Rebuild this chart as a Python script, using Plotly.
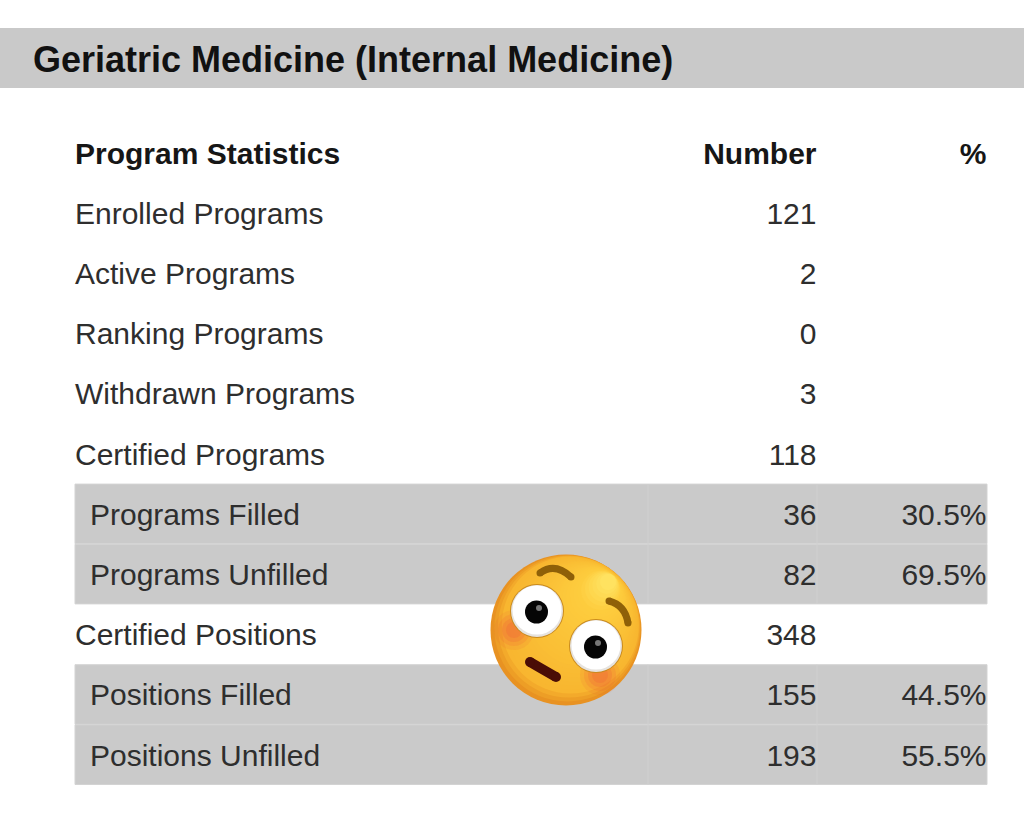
import plotly.graph_objects as go

W, H = 1024, 829

title = 'Geriatric Medicine (Internal Medicine)'
header_labels = ['Program Statistics', 'Number', '%']
row_labels = ['Enrolled Programs', 'Active Programs', 'Ranking Programs', 'Withdrawn Programs',
              'Certified Programs', 'Programs Filled', 'Programs Unfilled', 'Certified Positions',
              'Positions Filled', 'Positions Unfilled']
row_numbers = [121, 2, 0, 3, 118, 36, 82, 348, 155, 193]
row_percents = ['', '', '', '', '', '30.5%', '69.5%', '', '44.5%', '55.5%']

FONT = 'Liberation Sans'
BAND = '#cacaca'
TEXT = '#2e2e2e'
ROW_PX = 60.2
TOP_PX = 156  # pixel position of the header row on the y axis


def px_x(x):
    return x / W


def px_y(y):
    return 1 - y / H


def circle(cx, cy, r, color, opacity=1.0):
    return dict(type='circle', xref='paper', yref='paper', layer='above',
                x0=px_x(cx - r), x1=px_x(cx + r), y0=px_y(cy + r), y1=px_y(cy - r),
                fillcolor=color, opacity=opacity, line=dict(width=0))


def curve(points, color, width):
    (x0, y0), (x1, y1), (x2, y2) = points
    path = f'M {px_x(x0)} {px_y(y0)} Q {px_x(x1)} {px_y(y1)} {px_x(x2)} {px_y(y2)}'
    stroke = dict(type='path', xref='paper', yref='paper', layer='above', path=path,
                  line=dict(color=color, width=width))
    # round ends
    return [stroke, circle(x0, y0, width / 2, color), circle(x2, y2, width / 2, color)]


def mix(a, b, t):
    return 'rgb(%d,%d,%d)' % tuple(a[i] + (b[i] - a[i]) * t for i in range(3))


def emoji_shapes():
    shapes = []
    # face, layered circles drifting towards the upper right to fake the shading
    steps = 30
    for i in range(steps):
        t = i / (steps - 1)
        r = 75.5 * (1 - t) + 8 * t
        cx = 566 + 42 * t
        cy = 630 - 48 * t
        if t < 0.1:
            color = mix((232, 146, 34), (248, 182, 48), t / 0.1)
        elif t < 0.8:
            color = mix((248, 182, 48), (254, 205, 62), (t - 0.1) / 0.7)
        else:
            color = mix((254, 205, 62), (255, 226, 96), (t - 0.8) / 0.2)
        shapes.append(circle(cx, cy, r, color))
    # blush
    for r, op in [(20, 0.10), (16, 0.14), (12, 0.18), (8, 0.20)]:
        shapes.append(circle(514, 630, r, '#f0503c', op))
        shapes.append(circle(600, 675, r, '#f0503c', op))
    # eyes
    for cx, cy in [(537, 611), (596, 646)]:
        shapes.append(circle(cx, cy, 27, '#c98a1e'))
        shapes.append(circle(cx, cy, 26, '#e6e3df'))
        shapes.append(circle(cx, cy - 1, 24.5, '#ffffff'))
        shapes.append(circle(cx - 0.5, cy + 1, 11.5, '#050505'))
        shapes.append(circle(cx + 2, cy - 3, 3, '#777777'))
    # brows and mouth
    shapes += curve([(540, 573), (555, 562), (571, 577)], '#8f6008', 7)
    shapes += curve([(609, 601), (625, 605), (628, 623)], '#8f6008', 7)
    shapes += curve([(530, 662), (542, 669), (556, 677)], '#4a0d06', 10)
    return shapes


rows = list(range(1, len(row_labels) + 1))
is_sub = ['Filled' in s or 'Unfilled' in s for s in row_labels]

fig = go.Figure()

# title and header
fig.add_trace(go.Scatter(x=[33], y=[(60 - TOP_PX + 2.5) / ROW_PX], mode='text', text=[title],
                         textposition='middle right',
                         textfont=dict(family=FONT, size=36, color='#111111', weight='bold')))
fig.add_trace(go.Scatter(x=[75], y=[0], mode='text', text=[header_labels[0]],
                         textposition='middle right',
                         textfont=dict(family=FONT, size=30, color='#161616', weight='bold')))
fig.add_trace(go.Scatter(x=[816.5, 986.5], y=[0, 0], mode='text', text=header_labels[1:],
                         textposition='middle left',
                         textfont=dict(family=FONT, size=30, color='#161616', weight='bold')))

# body columns
fig.add_trace(go.Scatter(x=[90 if s else 75 for s in is_sub], y=rows, mode='text', text=row_labels,
                         textposition='middle right',
                         textfont=dict(family=FONT, size=30, color=TEXT)))
fig.add_trace(go.Scatter(x=[816.5] * len(rows), y=rows, mode='text', text=[str(n) for n in row_numbers],
                         textposition='middle left',
                         textfont=dict(family=FONT, size=30, color=TEXT)))
fig.add_trace(go.Scatter(x=[986.5] * len(rows), y=rows, mode='text', text=row_percents,
                         textposition='middle left',
                         textfont=dict(family=FONT, size=30, color=TEXT)))

shapes = [dict(type='rect', xref='paper', yref='paper', layer='below', x0=0, x1=1,
               y0=px_y(88), y1=px_y(28), fillcolor='#c9c9c9', line=dict(width=0))]
for row, sub in zip(rows, is_sub):
    if sub:
        shapes.append(dict(type='rect', xref='x', yref='y', layer='below', x0=75, x1=987,
                           y0=row - 0.55, y1=row + 0.44, fillcolor=BAND,
                           line=dict(color='#d3d3d3', width=1)))
# faint column seams in the shaded rows
for x in [648, 817]:
    for first, last in [(6, 7), (9, 10)]:
        shapes.append(dict(type='line', xref='x', yref='y', layer='below', x0=x, x1=x,
                           y0=first - 0.55, y1=last + 0.44,
                           line=dict(color='#d0d0d0', width=1)))
shapes += emoji_shapes()

fig.update_layout(
    width=W, height=H,
    margin=dict(l=0, r=0, t=0, b=0),
    paper_bgcolor='white', plot_bgcolor='white',
    showlegend=False,
    shapes=shapes,
    xaxis=dict(range=[0, W], visible=False, fixedrange=True),
    yaxis=dict(range=[(H - TOP_PX) / ROW_PX, -TOP_PX / ROW_PX], visible=False, fixedrange=True),
)

fig.write_html('out.html', post_script="document.body.style.margin='0';", config=dict(displayModeBar=False))
